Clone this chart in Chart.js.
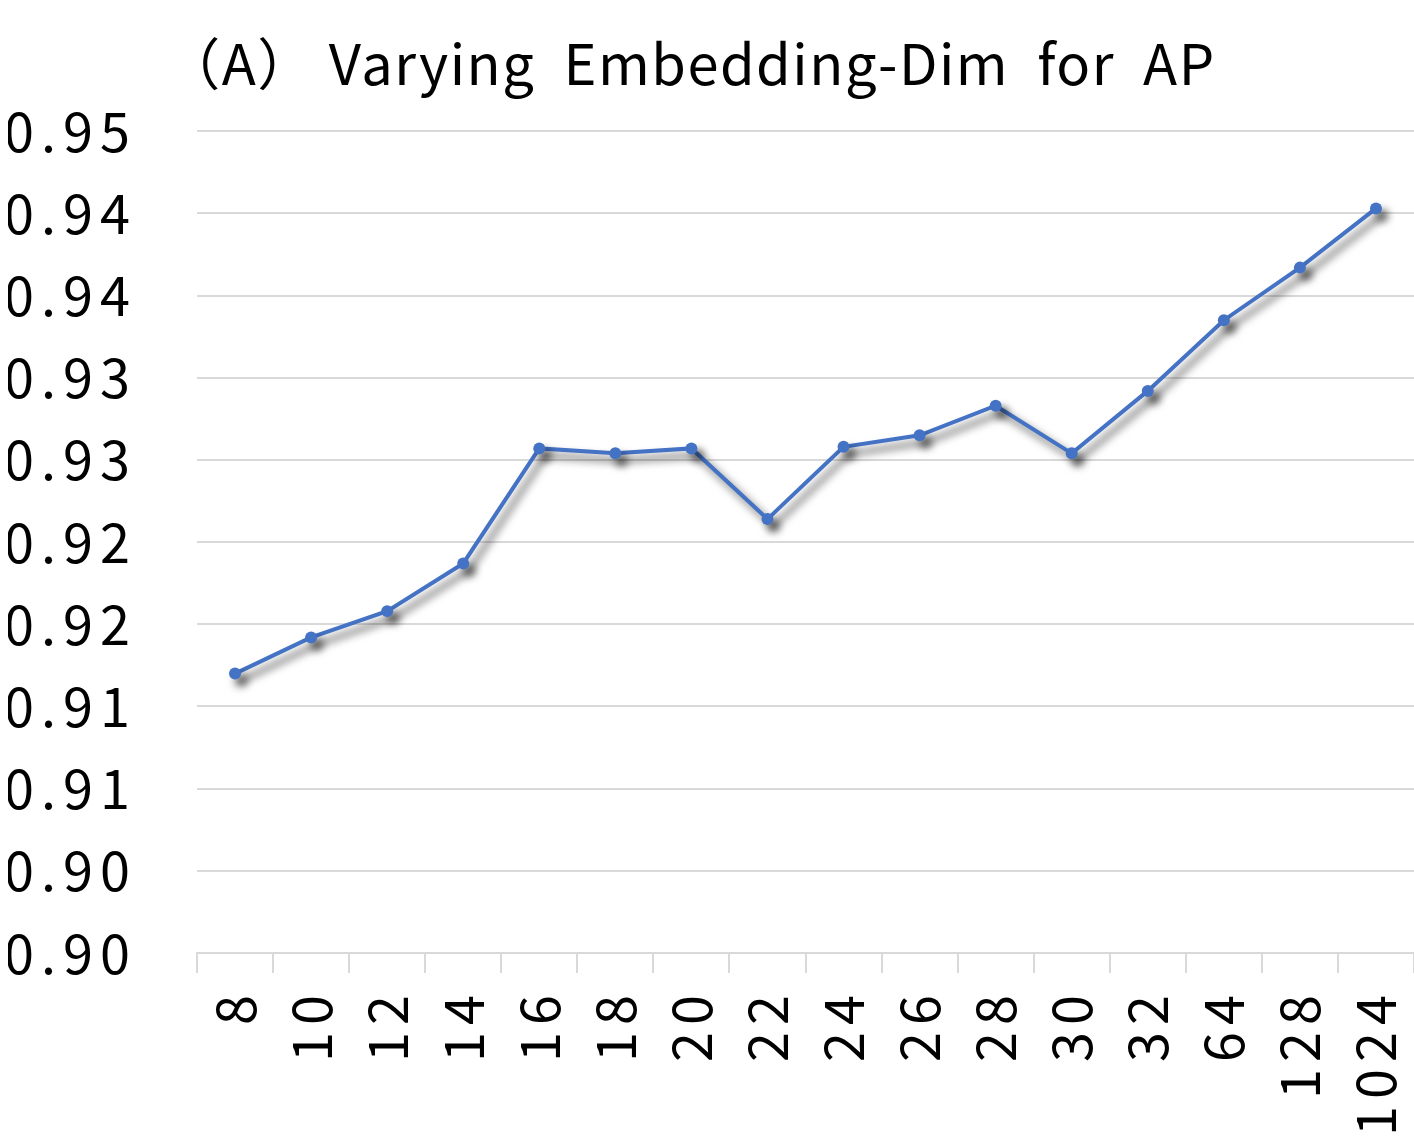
<!DOCTYPE html>
<html>
<head>
<meta charset="utf-8">
<title>Varying Embedding-Dim for AP</title>
<script src="https://cdn.jsdelivr.net/npm/chart.js@4.4.1/dist/chart.umd.min.js"></script>
<style>
  html, body { margin: 0; padding: 0; background: #ffffff; }
  #wrap { width: 1414px; height: 1145px; }
</style>
</head>
<body>
<div id="wrap"><canvas id="apChart"></canvas></div>
<script>
/* Embedding dimension sweep, AP metric */
const dims = ["8", "10", "12", "14", "16", "18", "20", "22", "24", "26", "28", "30", "32", "64", "128", "1024"];
const apValues = [0.9170, 0.9192, 0.9208, 0.9237, 0.9307, 0.9304, 0.9307, 0.9264,
                  0.9308, 0.9315, 0.9333, 0.9304, 0.9342, 0.9385, 0.9417, 0.9453];
const yTickLabels = ["0.90", "0.90", "0.91", "0.91", "0.92", "0.92", "0.93", "0.93", "0.94", "0.94", "0.95"];

const FONT_FAMILY = "'Noto Sans CJK KR', 'DejaVu Sans', sans-serif";
const LINE_BLUE = "#4472C4";
const GRID_GREY = "#d9d9d9";
const LABEL_SPACING = "7px";
const TITLE_SPACING = "1.5px";

// wide letter spacing on axis labels, tighter on the title.
// tick labels are drawn after the datasets (ticks.z = 1) so the
// spacing can be switched once the title is done.
const spacingPlugin = {
  id: "spacing",
  beforeLayout(chart) { chart.ctx.letterSpacing = LABEL_SPACING; },
  beforeDraw(chart) { chart.ctx.letterSpacing = TITLE_SPACING; },
  afterDatasetsDraw(chart) { chart.ctx.letterSpacing = LABEL_SPACING; },
};

// soft drop shadow under the line and markers
const shadowPlugin = {
  id: "lineShadow",
  beforeDatasetDraw(chart) {
    const ctx = chart.ctx;
    ctx.save();
    ctx.shadowColor = "rgba(0,0,0,0.65)";
    ctx.shadowBlur = 9;
    ctx.shadowOffsetX = 6;
    ctx.shadowOffsetY = 7;
  },
  afterDatasetDraw(chart) {
    chart.ctx.restore();
  },
};

function initApChart() {
  const ctx = document.getElementById("apChart");
  if (!ctx) return;

  new Chart(ctx, {
    type: "line",
    data: {
      labels: dims,
      datasets: [
        {
          label: "AP",
          data: apValues,
          borderColor: LINE_BLUE,
          backgroundColor: LINE_BLUE,
          borderWidth: 4,
          tension: 0,
          pointRadius: 6,
          pointBorderWidth: 0,
          pointBackgroundColor: LINE_BLUE,
          clip: false,
        },
      ],
    },
    options: {
      responsive: true,
      maintainAspectRatio: false,
      animation: false,
      layout: { autoPadding: false, padding: { top: 10, right: 0, left: 8, bottom: 12 } },
      plugins: {
        legend: { display: false },
        tooltip: { enabled: false },
        title: {
          display: true,
          text: "（A） Varying  Embedding-Dim  for  AP   ",
          color: "#000000",
          font: { size: 56, family: FONT_FAMILY, weight: "normal" },
          padding: { top: 20, bottom: 34 },
        },
      },
      scales: {
        x: {
          offset: true,
          grid: {
            offset: true,
            drawOnChartArea: false,
            drawTicks: true,
            tickLength: 20,
            color: GRID_GREY,
            lineWidth: 2,
          },
          border: { display: true, color: GRID_GREY, width: 2 },
          ticks: {
            z: 1,
            color: "#000000",
            font: { size: 54, family: FONT_FAMILY },
            minRotation: 90,
            maxRotation: 90,
            autoSkip: false,
            padding: 15,
          },
          afterFit(scale) {
            scale.paddingLeft = 0;
            scale.paddingRight = 0;
            scale.height = 180;
          },
        },
        y: {
          min: 0.9,
          max: 0.95,
          grid: { color: GRID_GREY, lineWidth: 2, drawTicks: false },
          border: { display: false },
          ticks: {
            z: 1,
            stepSize: 0.005,
            color: "#000000",
            font: { size: 54, family: FONT_FAMILY },
            padding: 60,
            callback: (v, i) => yTickLabels[i],
          },
          afterFit(scale) {
            scale.width = 189;
          },
        },
      },
    },
    plugins: [spacingPlugin, shadowPlugin],
  });
}

initApChart();
</script>
</body>
</html>
